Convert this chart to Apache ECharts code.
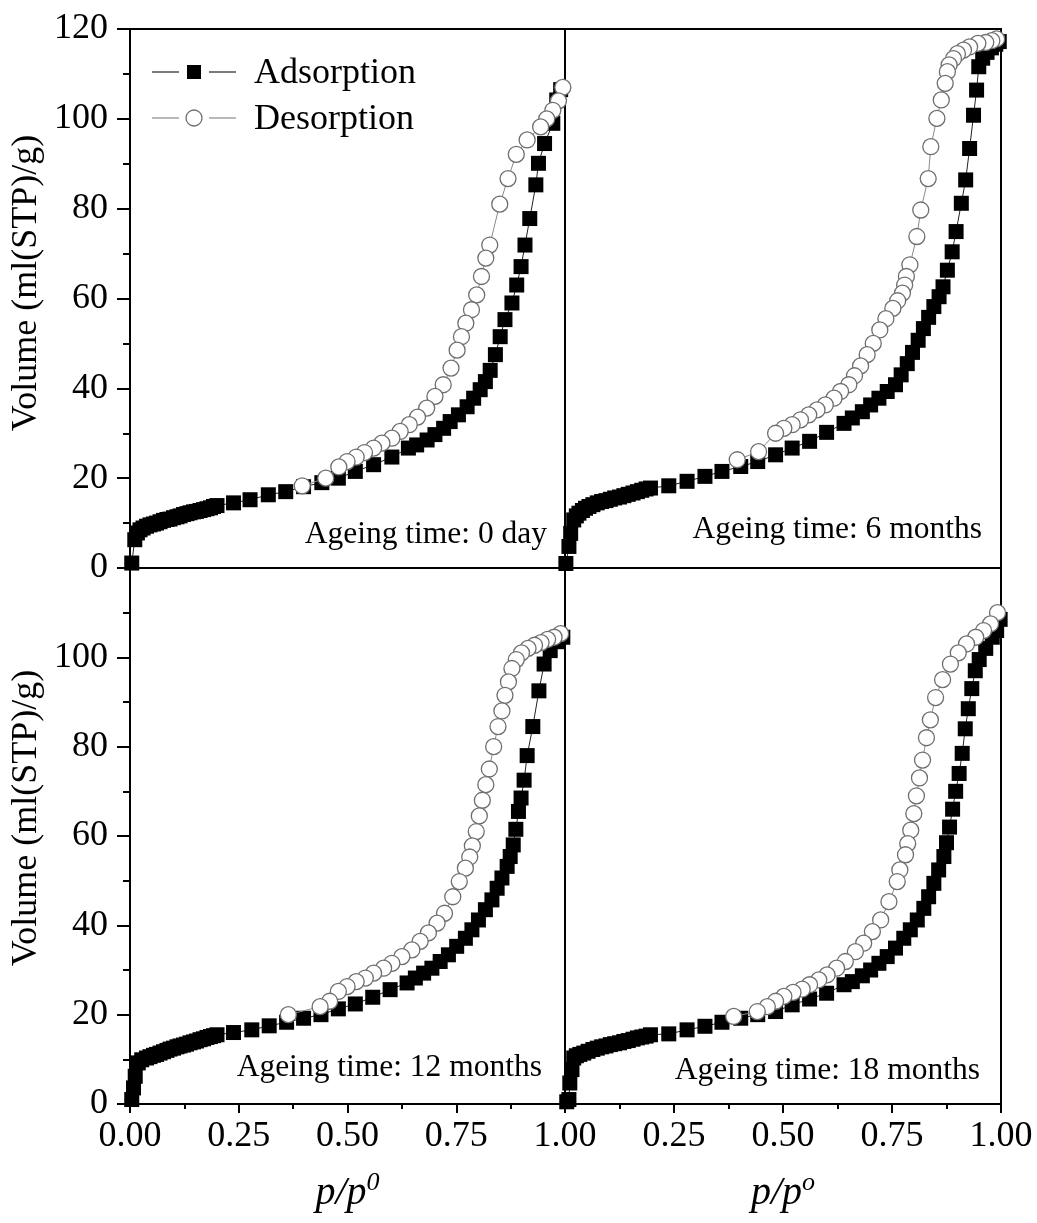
<!DOCTYPE html>
<html>
<head>
<meta charset="utf-8">
<title>N2 isotherms vs ageing time</title>
<script src="https://cdn.jsdelivr.net/npm/echarts@6/dist/echarts.min.js"></script>
<style>
  html, body { margin: 0; padding: 0; background: #fff; }
  #chart { width: 1037px; height: 1223px; }
</style>
</head>
<body>
<div id="chart"></div>
<script>
// Relative pressure p/p0 and adsorbed volume (ml(STP)/g) for each ageing time.

// Ageing time: 0 day
const pAds0 = [0.004, 0.011, 0.017, 0.023, 0.030, 0.038, 0.046, 0.054, 0.061, 0.069, 0.077, 0.085, 0.092, 0.100, 0.108, 0.115, 0.123, 0.131, 0.138, 0.146, 0.153, 0.161, 0.169, 0.177, 0.185, 0.192, 0.200, 0.238, 0.276, 0.318, 0.358, 0.399, 0.441, 0.479, 0.518, 0.560, 0.602, 0.640, 0.659, 0.683, 0.701, 0.721, 0.736, 0.755, 0.775, 0.790, 0.805, 0.817, 0.828, 0.840, 0.851, 0.862, 0.878, 0.889, 0.899, 0.908, 0.919, 0.933, 0.939, 0.953, 0.972, 0.981, 0.990];
const vAds0 = [1.1, 6.3, 7.8, 8.5, 8.9, 9.3, 9.6, 9.8, 10.0, 10.3, 10.6, 10.8, 10.9, 11.2, 11.4, 11.6, 11.9, 12.1, 12.3, 12.5, 12.6, 12.8, 13.0, 13.2, 13.4, 13.7, 13.9, 14.5, 15.2, 16.3, 17.0, 18.1, 19.0, 20.0, 21.5, 23.0, 24.7, 26.7, 27.4, 28.5, 29.7, 31.1, 32.6, 34.1, 35.9, 37.8, 39.7, 41.5, 44.0, 47.5, 51.5, 55.3, 59.0, 63.0, 67.1, 71.9, 77.8, 85.3, 90.1, 94.5, 99.0, 104.2, 106.5];
const pDes0 = [0.995, 0.985, 0.972, 0.958, 0.944, 0.913, 0.888, 0.869, 0.850, 0.827, 0.818, 0.808, 0.797, 0.785, 0.772, 0.762, 0.752, 0.738, 0.720, 0.701, 0.682, 0.661, 0.642, 0.621, 0.602, 0.579, 0.560, 0.539, 0.520, 0.499, 0.480, 0.450, 0.396];
const vDes0 = [107.0, 104.0, 101.9, 100.0, 98.2, 95.3, 92.1, 86.7, 81.0, 71.9, 69.0, 64.9, 60.8, 57.5, 54.5, 51.5, 48.5, 44.5, 40.8, 38.2, 35.6, 33.6, 31.9, 30.4, 28.9, 27.8, 26.7, 25.7, 24.7, 23.7, 22.5, 20.0, 18.3];

// Ageing time: 6 months
const pAds6 = [0.002, 0.009, 0.013, 0.020, 0.026, 0.032, 0.040, 0.047, 0.055, 0.064, 0.074, 0.084, 0.094, 0.104, 0.114, 0.125, 0.135, 0.145, 0.156, 0.166, 0.176, 0.186, 0.196, 0.238, 0.280, 0.321, 0.360, 0.403, 0.442, 0.483, 0.521, 0.561, 0.600, 0.640, 0.659, 0.682, 0.701, 0.720, 0.739, 0.758, 0.771, 0.785, 0.797, 0.810, 0.822, 0.834, 0.846, 0.858, 0.867, 0.877, 0.888, 0.897, 0.909, 0.919, 0.928, 0.937, 0.944, 0.949, 0.958, 0.968, 0.978, 0.988, 0.996];
const vAds6 = [1.0, 4.8, 7.7, 10.7, 11.6, 12.2, 12.8, 13.3, 13.7, 14.1, 14.5, 14.8, 15.0, 15.3, 15.6, 15.8, 16.1, 16.4, 16.7, 17.0, 17.3, 17.6, 17.8, 18.3, 19.3, 20.4, 21.5, 22.6, 23.7, 25.2, 26.7, 28.2, 30.2, 32.2, 33.4, 34.8, 36.3, 37.8, 39.3, 40.8, 43.0, 45.5, 48.0, 50.7, 53.3, 55.8, 58.2, 60.4, 62.6, 66.3, 70.4, 74.9, 81.2, 86.4, 93.4, 100.8, 106.4, 111.6, 113.5, 114.8, 115.8, 116.6, 117.2];
const pDes6 = [0.990, 0.979, 0.965, 0.947, 0.928, 0.914, 0.900, 0.891, 0.881, 0.877, 0.872, 0.863, 0.853, 0.839, 0.833, 0.816, 0.807, 0.791, 0.783, 0.779, 0.774, 0.763, 0.752, 0.736, 0.722, 0.707, 0.693, 0.678, 0.664, 0.651, 0.632, 0.617, 0.597, 0.578, 0.559, 0.540, 0.521, 0.502, 0.483, 0.444, 0.395];
const vDes6 = [117.8, 117.4, 117.0, 116.8, 116.0, 115.3, 114.5, 113.4, 112.0, 110.5, 107.9, 104.2, 100.1, 93.8, 86.7, 79.7, 73.8, 67.5, 64.9, 63.0, 61.2, 59.5, 57.8, 55.5, 53.0, 50.0, 47.5, 45.0, 42.8, 40.8, 39.3, 37.8, 36.3, 35.2, 34.1, 33.0, 31.9, 31.1, 30.0, 25.9, 24.1];

// Ageing time: 12 months
const pAds12 = [0.004, 0.008, 0.012, 0.019, 0.027, 0.038, 0.046, 0.054, 0.061, 0.069, 0.077, 0.085, 0.092, 0.100, 0.108, 0.115, 0.123, 0.130, 0.138, 0.146, 0.153, 0.161, 0.169, 0.177, 0.185, 0.192, 0.200, 0.238, 0.280, 0.320, 0.360, 0.399, 0.439, 0.479, 0.518, 0.558, 0.598, 0.637, 0.656, 0.675, 0.694, 0.713, 0.732, 0.751, 0.771, 0.786, 0.801, 0.817, 0.832, 0.844, 0.855, 0.867, 0.874, 0.881, 0.887, 0.893, 0.899, 0.906, 0.913, 0.926, 0.940, 0.952, 0.966, 0.981, 0.995];
const vAds12 = [1.0, 3.6, 6.2, 9.2, 9.9, 10.3, 10.6, 10.9, 11.1, 11.4, 11.7, 12.0, 12.3, 12.5, 12.8, 13.0, 13.2, 13.4, 13.7, 13.9, 14.1, 14.4, 14.6, 14.9, 15.1, 15.3, 15.5, 16.0, 16.6, 17.5, 18.3, 19.2, 20.0, 21.3, 22.4, 23.9, 25.6, 27.1, 28.2, 29.3, 30.4, 31.9, 33.4, 35.3, 37.1, 39.0, 41.2, 43.5, 45.7, 48.3, 50.6, 53.2, 55.4, 58.0, 61.5, 65.5, 68.5, 72.5, 78.0, 84.5, 92.5, 98.5, 101.5, 103.5, 104.5];
const pDes12 = [0.990, 0.975, 0.960, 0.945, 0.930, 0.915, 0.900, 0.888, 0.878, 0.870, 0.862, 0.855, 0.846, 0.836, 0.826, 0.818, 0.810, 0.803, 0.796, 0.787, 0.781, 0.771, 0.757, 0.742, 0.723, 0.706, 0.686, 0.667, 0.648, 0.625, 0.602, 0.583, 0.560, 0.541, 0.520, 0.499, 0.479, 0.459, 0.437, 0.364];
const vDes12 = [105.3, 104.5, 104.0, 103.3, 102.7, 102.0, 101.0, 99.5, 97.5, 94.5, 91.5, 88.0, 84.5, 80.0, 75.0, 71.5, 68.0, 64.5, 61.0, 57.8, 55.3, 52.8, 49.8, 46.4, 42.7, 40.5, 38.3, 36.4, 34.5, 33.0, 31.5, 30.4, 29.3, 28.2, 27.4, 26.3, 25.2, 23.0, 21.8, 20.0];

// Ageing time: 18 months
const pAds18 = [0.004, 0.009, 0.011, 0.016, 0.020, 0.026, 0.034, 0.043, 0.053, 0.064, 0.074, 0.084, 0.094, 0.104, 0.114, 0.125, 0.135, 0.145, 0.156, 0.166, 0.176, 0.186, 0.196, 0.238, 0.280, 0.321, 0.360, 0.403, 0.442, 0.483, 0.521, 0.561, 0.600, 0.640, 0.659, 0.682, 0.701, 0.720, 0.739, 0.758, 0.777, 0.792, 0.808, 0.823, 0.834, 0.846, 0.857, 0.869, 0.875, 0.882, 0.889, 0.896, 0.904, 0.911, 0.918, 0.925, 0.933, 0.941, 0.950, 0.965, 0.980, 0.990, 0.998];
const vAds18 = [0.5, 1.0, 4.7, 7.7, 10.3, 10.8, 11.1, 11.4, 11.8, 12.2, 12.5, 12.8, 13.0, 13.3, 13.5, 13.7, 14.0, 14.2, 14.5, 14.8, 15.0, 15.2, 15.5, 15.7, 16.6, 17.4, 18.3, 19.2, 20.0, 20.7, 22.2, 23.5, 24.8, 26.7, 27.4, 28.7, 30.0, 31.5, 33.0, 34.9, 37.1, 39.0, 41.2, 43.8, 46.4, 49.4, 52.4, 55.4, 58.5, 62.0, 66.0, 70.0, 74.0, 78.5, 84.0, 88.5, 93.0, 97.0, 99.5, 102.0, 104.5, 106.0, 108.5];
const pDes18 = [0.992, 0.976, 0.960, 0.942, 0.921, 0.902, 0.884, 0.866, 0.850, 0.838, 0.829, 0.820, 0.813, 0.806, 0.800, 0.793, 0.786, 0.781, 0.768, 0.762, 0.743, 0.724, 0.705, 0.685, 0.666, 0.643, 0.623, 0.601, 0.582, 0.561, 0.544, 0.523, 0.502, 0.483, 0.464, 0.441, 0.387];
const vDes18 = [110.0, 107.5, 106.0, 104.5, 103.0, 101.0, 98.5, 95.0, 91.0, 86.0, 82.0, 77.0, 73.0, 69.0, 65.0, 61.3, 58.3, 55.8, 52.4, 49.8, 45.3, 41.2, 38.6, 36.0, 34.1, 31.9, 30.4, 28.9, 27.8, 26.7, 25.7, 25.0, 24.1, 23.0, 21.8, 20.7, 19.6];

const panelLabels = ['Ageing time: 0 day', 'Ageing time: 6 months', 'Ageing time: 12 months', 'Ageing time: 18 months'];
const seriesNames = ['Adsorption', 'Desorption'];
const yTitle = 'Volume (ml(STP)/g)';

const panels = [
  { ads: [pAds0, vAds0], des: [pDes0, vDes0] },
  { ads: [pAds6, vAds6], des: [pDes6, vDes6] },
  { ads: [pAds12, vAds12], des: [pDes12, vDes12] },
  { ads: [pAds18, vAds18], des: [pDes18, vDes18] }
];

const FONT = "'Liberation Serif', 'Times New Roman', serif";
const zip = (xs, ys) => xs.map((x, i) => [x, ys[i]]);

// marker / line styles shared by the plot and the key
const ADS_STYLE = { symbol: 'rect', size: 15, fill: '#000', line: '#222' };
const DES_STYLE = { symbol: 'circle', size: 16, fill: '#fff', stroke: '#6e6e6e', line: '#8a8a8a' };

// panel frames: [left, top, width, height]
const frames = [
  [130, 29, 435, 539],
  [565, 29, 436, 539],
  [130, 568, 435, 536],
  [565, 568, 436, 536]
];

const grids = frames.map(f => ({
  left: f[0], top: f[1], width: f[2], height: f[3],
  show: true, borderColor: '#000', borderWidth: 2,
  backgroundColor: 'transparent', containLabel: false
}));

const xAxes = frames.map((f, i) => {
  const bottomRow = i >= 2;
  return {
    gridIndex: i, type: 'value', min: 0, max: 1, interval: 0.25,
    axisLine: { show: true, lineStyle: { color: '#000', width: 2 } },
    axisTick: { show: bottomRow, inside: false, length: 9, lineStyle: { color: '#000', width: 2 } },
    minorTick: { show: bottomRow, splitNumber: 2, length: 5, lineStyle: { color: '#000', width: 2 } },
    splitLine: { show: false },
    axisLabel: {
      show: bottomRow, margin: 15, color: '#000', fontFamily: FONT, fontSize: 36,
      showMinLabel: i !== 3,
      formatter: v => v.toFixed(2)
    },
    name: bottomRow ? (i === 2 ? '{i|p/p}{s|0}' : '{i|p/p}{s|o}') : '',
    nameLocation: 'middle', nameGap: 66,
    nameTextStyle: {
      rich: {
        i: { fontFamily: FONT, fontStyle: 'italic', fontSize: 40, lineHeight: 46, color: '#000' },
        s: { fontFamily: FONT, fontStyle: 'italic', fontSize: 26, lineHeight: 46, verticalAlign: 'top', color: '#000' }
      }
    }
  };
});

const yAxes = frames.map((f, i) => {
  const leftCol = i % 2 === 0;
  return {
    gridIndex: i, type: 'value', min: 0, max: 120, interval: 20,
    axisLine: { show: true, lineStyle: { color: '#000', width: 2 } },
    axisTick: { show: leftCol, inside: false, length: 13, lineStyle: { color: '#000', width: 2 } },
    minorTick: { show: leftCol, splitNumber: 2, length: 7, lineStyle: { color: '#000', width: 2 } },
    splitLine: { show: false },
    axisLabel: {
      show: leftCol, margin: 22, color: '#000', fontFamily: FONT, fontSize: 36,
      showMaxLabel: i === 0
    }
  };
});

const series = [];
panels.forEach((pn, i) => {
  series.push({
    name: seriesNames[0], type: 'line', xAxisIndex: i, yAxisIndex: i,
    data: zip(pn.ads[0], pn.ads[1]),
    symbol: ADS_STYLE.symbol, symbolSize: ADS_STYLE.size,
    itemStyle: { color: ADS_STYLE.fill },
    lineStyle: { color: ADS_STYLE.line, width: 1 },
    emphasis: { disabled: true }, animation: false, z: 3
  });
  series.push({
    name: seriesNames[1], type: 'line', xAxisIndex: i, yAxisIndex: i,
    data: zip(pn.des[0], pn.des[1]),
    symbol: DES_STYLE.symbol, symbolSize: DES_STYLE.size,
    itemStyle: { color: DES_STYLE.fill, borderColor: DES_STYLE.stroke, borderWidth: 1.3 },
    lineStyle: { color: DES_STYLE.line, width: 1 },
    emphasis: { disabled: true }, animation: false, z: 4
  });
});

// panel captions, right-aligned inside each frame
const labelPos = [[547, 535], [982, 530], [542, 1068], [980, 1071]];
const graphics = panelLabels.map((t, i) => ({
  type: 'text', x: labelPos[i][0], y: labelPos[i][1], z: 10,
  style: { text: t, fill: '#000', font: '31.5px ' + FONT, align: 'right', verticalAlign: 'middle' }
}));

// vertical titles of the two rows
[283, 818].forEach(cy => {
  graphics.push({
    type: 'text', x: 27, y: cy, rotation: Math.PI / 2, z: 10,
    style: { text: yTitle, fill: '#000', font: '36px ' + FONT, align: 'center', verticalAlign: 'middle' }
  });
});

// key in the upper-left panel: short line, marker, short line, then the series name
const keyRows = [
  { name: seriesNames[0], y: 72, st: ADS_STYLE },
  { name: seriesNames[1], y: 118, st: DES_STYLE }
];
keyRows.forEach(r => {
  graphics.push({ type: 'line', shape: { x1: 152, y1: r.y, x2: 179, y2: r.y }, style: { stroke: r.st.line, lineWidth: 1.2 }, z: 10 });
  graphics.push({ type: 'line', shape: { x1: 209, y1: r.y, x2: 236, y2: r.y }, style: { stroke: r.st.line, lineWidth: 1.2 }, z: 10 });
  if (r.st.symbol === 'rect') {
    graphics.push({ type: 'rect', shape: { x: 187, y: r.y - 7, width: 14, height: 14 }, style: { fill: r.st.fill }, z: 10 });
  } else {
    graphics.push({ type: 'circle', shape: { cx: 194, cy: r.y, r: 8 }, style: { fill: r.st.fill, stroke: r.st.stroke, lineWidth: 1.3 }, z: 10 });
  }
  graphics.push({ type: 'text', x: 254, y: r.y + 2, z: 10, style: { text: r.name, fill: '#000', font: '36px ' + FONT, align: 'left', verticalAlign: 'middle' } });
});

const chart = echarts.init(document.getElementById('chart'), null, { renderer: 'canvas' });
chart.setOption({
  backgroundColor: '#fff',
  animation: false,
  grid: grids,
  xAxis: xAxes,
  yAxis: yAxes,
  series: series,
  graphic: graphics
});
</script>
</body>
</html>
